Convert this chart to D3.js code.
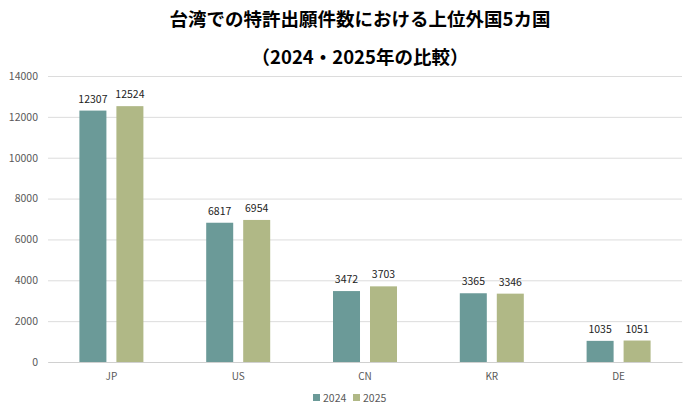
<!DOCTYPE html>
<html>
<head>
<meta charset="utf-8">
<script src="https://cdn.jsdelivr.net/npm/d3@7"></script>
<style>
  body { margin: 0; background: #fff; }
  text { font-family: "Noto Sans CJK JP", "Noto Sans", sans-serif; }
</style>
</head>
<body>
<div id="chart"></div>
<script>
// Data
const countries = ["JP", "US", "CN", "KR", "DE"];
const years = ["2024", "2025"];
const values2024 = [12307, 6817, 3472, 3365, 1035];
const values2025 = [12524, 6954, 3703, 3346, 1051];
const yTicks = [0, 2000, 4000, 6000, 8000, 10000, 12000, 14000];
const titleLines = ["台湾での特許出願件数における上位外国5カ国", "（2024・2025年の比較）"];

const width = 692, height = 412;
const margin = {top: 76, right: 10, bottom: 50, left: 48};

const svg = d3.select("#chart").append("svg")
  .attr("width", width)
  .attr("height", height);

const color = d3.scaleOrdinal().domain(years).range(["#6b9a98", "#b0b886"]);

const x = d3.scaleBand()
  .domain(countries)
  .range([margin.left, width - margin.right]);

const xInner = d3.scaleBand()
  .domain(years)
  .range([0, 64])
  .paddingInner(0.27);

const y = d3.scaleLinear()
  .domain([0, 14000])
  .range([height - margin.bottom, margin.top]);

// Title
svg.selectAll(".title")
  .data(titleLines)
  .join("text")
  .attr("class", "title")
  .attr("x", 360)
  .attr("y", (d, i) => 25.5 + i * 38.5)
  .attr("text-anchor", "middle")
  .attr("font-size", 18.5)
  .attr("font-weight", "bold")
  .attr("fill", "#000")
  .text(d => d);

// Gridlines + y axis
const yAxis = svg.append("g")
  .attr("transform", `translate(${margin.left},0)`)
  .call(d3.axisLeft(y).tickValues(yTicks).tickSize(-(width - margin.left - margin.right)).tickPadding(10).tickFormat(d3.format("d")));
yAxis.select(".domain").remove();
yAxis.selectAll(".tick line").attr("stroke", "#dcdcdc").attr("stroke-width", 1);
yAxis.selectAll(".tick text").attr("fill", "#595959").attr("font-size", 10.5);

// x axis baseline and labels
const xAxis = svg.append("g")
  .attr("transform", `translate(0,${y(0)})`)
  .call(d3.axisBottom(x).tickSize(0).tickPadding(11));
xAxis.select(".domain").attr("stroke", "#d0d0d0");
xAxis.selectAll(".tick text").attr("fill", "#595959").attr("font-size", 10);

// Bars
const rows = countries.map((c, i) => ({country: c, values: [
  {year: "2024", value: values2024[i]},
  {year: "2025", value: values2025[i]}
]}));

const groups = svg.append("g")
  .selectAll("g")
  .data(rows)
  .join("g")
  .attr("transform", d => `translate(${x(d.country) + x.bandwidth() / 2 - 32},0)`);

groups.selectAll("rect")
  .data(d => d.values)
  .join("rect")
  .attr("x", d => xInner(d.year))
  .attr("y", d => y(d.value))
  .attr("width", xInner.bandwidth())
  .attr("height", d => y(0) - y(d.value))
  .attr("fill", d => color(d.year));

groups.selectAll("text")
  .data(d => d.values)
  .join("text")
  .attr("x", d => xInner(d.year) + xInner.bandwidth() / 2)
  .attr("y", d => y(d.value) - 8)
  .attr("text-anchor", "middle")
  .attr("font-size", 10.5)
  .attr("fill", "#222")
  .text(d => d.value);

// Legend
const legend = svg.append("g")
  .attr("transform", `translate(313,398)`);

years.forEach((yr, i) => {
  const row = legend.append("g").attr("transform", `translate(${i * 40},0)`);
  row.append("rect")
    .attr("x", 0).attr("y", -4)
    .attr("width", 7).attr("height", 7)
    .attr("fill", color(yr));
  row.append("text")
    .attr("x", 10)
    .attr("y", 3.5)
    .attr("font-size", 10.5)
    .attr("fill", "#595959")
    .text(yr);
});
</script>
</body>
</html>
